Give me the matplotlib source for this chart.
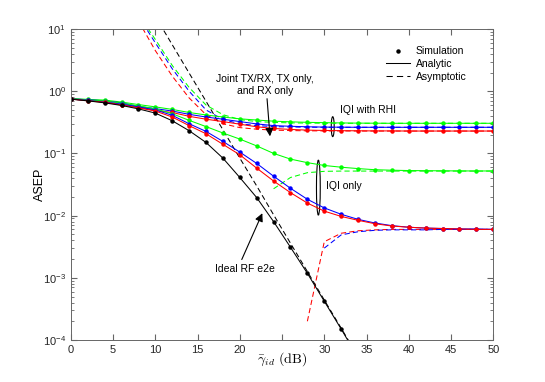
import numpy as np
import matplotlib
matplotlib.use("Agg")
import matplotlib.pyplot as plt
from matplotlib.patches import Ellipse
from matplotlib.lines import Line2D

# SNR grid (dB), markers every 2 dB
snr = list(range(0, 52, 2))

# analytic / simulated ASEP, IQI with RHI
green_rhi = [0.76, 0.74, 0.72, 0.67, 0.61, 0.56, 0.51, 0.455, 0.415, 0.385, 0.36, 0.344, 0.33,
             0.322, 0.316, 0.312, 0.309, 0.307, 0.306, 0.305, 0.305, 0.305, 0.305, 0.305, 0.305, 0.305]
blue_rhi = [0.755, 0.73, 0.70, 0.65, 0.57, 0.525, 0.48, 0.425, 0.385, 0.355, 0.325, 0.298, 0.28,
            0.273, 0.268, 0.265, 0.264, 0.263, 0.263, 0.263, 0.263, 0.263, 0.263, 0.263, 0.263, 0.263]
red_rhi = [0.75, 0.71, 0.67, 0.61, 0.55, 0.49, 0.455, 0.395, 0.355, 0.325, 0.295, 0.268, 0.252,
           0.243, 0.237, 0.234, 0.232, 0.231, 0.23, 0.23, 0.229, 0.229, 0.229, 0.229, 0.229, 0.229]

# IQI only
green_iqi = [0.76, 0.72, 0.70, 0.64, 0.58, 0.52, 0.435, 0.34, 0.27, 0.213, 0.17, 0.132, 0.100,
             0.081, 0.071, 0.064, 0.060, 0.057, 0.0547, 0.0537, 0.053, 0.0527, 0.0525, 0.0523, 0.0522, 0.0522]
blue_iqi = [0.75, 0.71, 0.67, 0.62, 0.56, 0.50, 0.41, 0.30, 0.226, 0.156, 0.105, 0.069, 0.043,
            0.0275, 0.0183, 0.0133, 0.0105, 0.0087, 0.0076, 0.0069, 0.0065, 0.0063, 0.0062, 0.0061, 0.0061, 0.006]
red_iqi = [0.75, 0.70, 0.665, 0.60, 0.54, 0.48, 0.385, 0.28, 0.207, 0.14, 0.095, 0.058, 0.036,
           0.0234, 0.0159, 0.0118, 0.0097, 0.0084, 0.0074, 0.0068, 0.0065, 0.0063, 0.0062, 0.0061, 0.006, 0.006]

# ideal RF (no impairments)
snr_ideal = list(range(0, 36, 2))
black_ideal = [0.745, 0.70, 0.65, 0.59, 0.52, 0.445, 0.335, 0.232, 0.150, 0.084, 0.041, 0.0195,
               0.0080, 0.0031, 0.00118, 4.2e-4, 1.5e-4, 5.2e-5]

# asymptotic curves
snr_asym_hi = list(range(8, 52, 2))
green_rhi_asym = [17.0, 6.8, 2.6, 1.15, 0.6, 0.42, 0.35, 0.325, 0.315, 0.31, 0.307, 0.306,
                  0.305, 0.305, 0.305, 0.305, 0.305, 0.305, 0.305, 0.305, 0.305, 0.305]
blue_rhi_asym = [16.0, 6.0, 2.3, 1.0, 0.5, 0.35, 0.30, 0.28, 0.27, 0.266, 0.264, 0.263,
                 0.263, 0.263, 0.263, 0.263, 0.263, 0.263, 0.263, 0.263, 0.263, 0.263]
red_rhi_asym = [13.5, 4.5, 1.75, 0.78, 0.42, 0.30, 0.26, 0.245, 0.237, 0.233, 0.231, 0.23,
                0.23, 0.229, 0.229, 0.229, 0.229, 0.229, 0.229, 0.229, 0.229, 0.229]

snr_green_iqi_asym = list(range(24, 52, 2))
green_iqi_asym = [0.027, 0.041, 0.049, 0.0515, 0.052, 0.052, 0.052, 0.052, 0.052, 0.052,
                  0.052, 0.052, 0.052, 0.052]
snr_red_iqi_asym = list(range(28, 52, 2))
red_iqi_asym = [2.0e-4, 0.0038, 0.0052, 0.0057, 0.0059, 0.006, 0.006, 0.006, 0.006, 0.006, 0.006, 0.006]
snr_blue_iqi_asym = list(range(30, 52, 2))
blue_iqi_asym = [0.0030, 0.0049, 0.0055, 0.0058, 0.0059, 0.0059, 0.0059, 0.006, 0.006, 0.006, 0.006]

snr_ideal_asym = list(range(10, 36, 2))
black_ideal_asym = [16.0, 5.6, 1.96, 0.69, 0.24, 0.084, 0.030, 0.0103, 0.0036, 0.00126,
                    4.4e-4, 1.55e-4, 5.4e-5]

# x tick labels (the one under the axis label is hidden, as in the original)
x_ticks = [0, 5, 10, 15, 20, 25, 30, 35, 40, 45, 50]
x_tick_labels = ["0", "5", "10", "15", "20", "", "30", "35", "40", "45", "50"]

GREEN = (0.0, 1.0, 0.0)
BLUE = (0.0, 0.0, 1.0)
RED = (1.0, 0.0, 0.0)
BLACK = (0.0, 0.0, 0.0)

plt.rcParams["font.family"] = ["Liberation Sans", "DejaVu Sans"]
plt.rcParams["mathtext.fontset"] = "cm"

fig = plt.figure(figsize=(5.45, 3.82), dpi=100)
ax = fig.add_axes([0.130, 0.110, 0.775, 0.814])

LW = 0.75
DASH = (0, (5, 3))

def analytic(x, y, color):
    ax.plot(x, y, color=color, lw=LW, marker="o", ms=2.2, mec=color, mfc=color)

def asym(x, y, color):
    ax.plot(x, y, color=color, lw=LW, linestyle=DASH)

asym(snr_asym_hi, green_rhi_asym, GREEN)
asym(snr_asym_hi, blue_rhi_asym, BLUE)
asym(snr_asym_hi, red_rhi_asym, RED)
asym(snr_green_iqi_asym, green_iqi_asym, GREEN)
asym(snr_red_iqi_asym, red_iqi_asym, RED)
asym(snr_blue_iqi_asym, blue_iqi_asym, BLUE)
asym(snr_ideal_asym, black_ideal_asym, BLACK)

analytic(snr, green_rhi, GREEN)
analytic(snr, blue_rhi, BLUE)
analytic(snr, red_rhi, RED)
analytic(snr, green_iqi, GREEN)
analytic(snr, blue_iqi, BLUE)
analytic(snr, red_iqi, RED)
analytic(snr_ideal, black_ideal, BLACK)

ax.set_yscale("log")
ax.set_xlim(0, 50)
ax.set_ylim(1e-4, 10)
ax.set_xticks(x_ticks)
ax.set_xticklabels(x_tick_labels)
ax.tick_params(which="both", direction="in", top=True, right=True, labelsize=8,
               color="0.4", labelcolor="0.15")
ax.tick_params(which="major", length=4)
ax.tick_params(which="minor", length=2)
for s in ax.spines.values():
    s.set_color("0.4")
    s.set_linewidth(0.7)

ax.set_ylabel("ASEP", fontsize=9, labelpad=-2)
ax.set_xlabel(r"$\bar{\gamma}_{id}\ \mathrm{(dB)}$", fontsize=10, labelpad=-3)

# annotations
ax.text(23.0, 1.26, "Joint TX/RX, TX only,\nand RX only", fontsize=7.5, ha="center", va="center",
        linespacing=1.3)
ax.annotate("", xy=(23.6, 0.17), xytext=(23.2, 0.84),
            arrowprops=dict(arrowstyle="-|>", color="k", lw=0.8, mutation_scale=12))
ax.text(31.9, 0.50, "IQI with RHI", fontsize=7.5, ha="left", va="center")
ax.text(30.2, 0.030, "IQI only", fontsize=7.5, ha="left", va="center")
ax.text(17.1, 0.00138, "Ideal RF e2e", fontsize=7.5, ha="left", va="center")
ax.annotate("", xy=(22.8, 0.012), xytext=(20.1, 0.00179),
            arrowprops=dict(arrowstyle="-|>", color="k", lw=0.8, mutation_scale=12))

ax.add_patch(Ellipse((0.620, 0.686), 0.007, 0.064, transform=ax.transAxes,
                     fill=False, ec="k", lw=0.8))
ax.add_patch(Ellipse((0.586, 0.490), 0.009, 0.177, transform=ax.transAxes,
                     fill=False, ec="k", lw=0.8))

handles = [
    Line2D([], [], color="k", marker="o", ms=2.2, linestyle="none"),
    Line2D([], [], color="k", lw=LW),
    Line2D([], [], color="k", lw=LW, linestyle=(0, (6, 4))),
]
ax.legend(handles, ["Simulation", "Analytic", "Asymptotic"], loc="upper left",
          bbox_to_anchor=(0.725, 0.975), frameon=False, fontsize=7.5, handlelength=2.3,
          handletextpad=0.5, labelspacing=0.28)

fig.savefig("out.png", dpi=100)
